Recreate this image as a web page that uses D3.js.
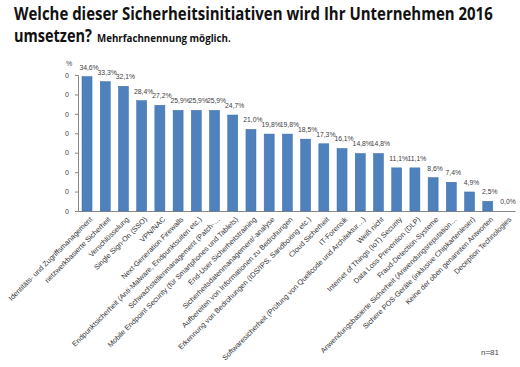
<!DOCTYPE html>
<html>
<head>
<meta charset="utf-8">
<script src="https://cdn.jsdelivr.net/npm/d3@7"></script>
<style>
  body { margin: 0; background: #fff; }
  svg { display: block; }
</style>
</head>
<body>
<div id="chart"></div>
<script>
'use strict';

const categories = [
  'Identitäts- und Zugriffsmanagement',
  'netzwerkbasierte Sicherheit',
  'Verschlüsselung',
  'Single Sign-On (SSO)',
  'VPN/NAC',
  'Next-Generation Firewalls',
  'Endpunktsicherheit (Anti-Malware, Endpunktsuiten etc.)',
  'Schwachstellenmanagement (Patch-…',
  'Mobile Endpoint Security (für Smartphones und Tablets)',
  'End-User Sicherheitstraining',
  'Sicherheitsdatenmanagement/-analyse',
  'Aufbereiten von Informationen zu Bedrohungen',
  'Erkennung von Bedrohungen (IDS/IPS, Sandboxing etc.)',
  'Cloud Sicherheit',
  'IT-Forensik',
  'Softwaresicherheit (Prüfung von Quellcode und Architektur…)',
  'Weiß nicht',
  'Internet of Things (IoT) Security',
  'Data Loss Prevention (DLP)',
  'Fraud-Detection-Systeme',
  'Anwendungsbasierte Sicherheit (Anwendungsreputation…',
  'Sichere POS-Geräte (inklusive Chipkartenleser)',
  'Keine der oben genannten Antworten',
  'Deception Technologies'
];

const values = [
  34.6, 33.3, 32.1, 28.4, 27.2, 25.9, 25.9, 25.9, 24.7, 21.0, 19.8, 19.8,
  18.5, 17.3, 16.1, 14.8, 14.8, 11.1, 11.1, 8.6, 7.4, 4.9, 2.5, 0.0
];

const yTicks = [0, 5, 10, 15, 20, 25, 30, 35];
// the tick labels are cut off in the original, only the last digit shows
const yTickLabels = ['0', '0', '0', '0', '0', '0', '0', '0'];

const title1 = 'Welche dieser Sicherheitsinitiativen wird Ihr Unternehmen 2016';
const title2 = 'umsetzen?';
const subtitle = 'Mehrfachnennung möglich.';
const note = 'n=81';

const W = 520, H = 367;
const plot = { left: 78, right: 515, top: 75, bottom: 211 };

const svg = d3.select('#chart').append('svg')
  .attr('width', W)
  .attr('height', H);

const font = 'Liberation Sans, Arial, sans-serif';
const titleFont = 'Open Sans, sans-serif';

// narrow Calibri look: squeeze a text horizontally to a given width
function squeezed(str, tx, ty, size, width) {
  const t = svg.append('text')
    .attr('font-family', titleFont)
    .attr('font-weight', 'bold')
    .attr('font-size', size)
    .attr('fill', '#111')
    .text(str);
  const sx = width / t.node().getComputedTextLength();
  t.attr('transform', `translate(${tx}, ${ty}) scale(${sx}, 1)`);
  return t;
}

squeezed(title1, 14, 20, 18, 479);
squeezed(title2, 14, 42, 18, 78);
squeezed(subtitle, 97, 42, 10, 134);

const x = d3.scaleBand()
  .domain(categories)
  .range([plot.left, plot.right])
  .paddingInner(0.45)
  .paddingOuter(0.22);

const y = d3.scaleLinear()
  .domain([0, 35])
  .range([plot.bottom, plot.top]);

// y axis
const yAxis = d3.axisLeft(y)
  .tickValues(yTicks)
  .tickSize(3)
  .tickPadding(6)
  .tickFormat((d, i) => yTickLabels[i]);

const gy = svg.append('g')
  .attr('transform', `translate(${plot.left}, 0)`)
  .call(yAxis);
gy.select('.domain').attr('stroke', '#888');
gy.selectAll('.tick line').attr('stroke', '#888');
gy.selectAll('.tick text')
  .attr('font-family', font)
  .attr('font-size', 7)
  .attr('fill', '#444');

svg.append('text')
  .attr('x', plot.left - 9).attr('y', 66)
  .attr('text-anchor', 'middle')
  .attr('font-family', font)
  .attr('font-size', 7)
  .attr('fill', '#444')
  .text('%');

// x axis
const xAxis = d3.axisBottom(x).tickSize(0).tickPadding(4);
const gx = svg.append('g')
  .attr('transform', `translate(0, ${plot.bottom})`)
  .call(xAxis);
gx.select('.domain').attr('stroke', '#888');
gx.selectAll('.tick text')
  .attr('font-family', font)
  .attr('font-size', 7.3)
  .attr('fill', '#333')
  .attr('text-anchor', 'end')
  .attr('dy', 0)
  .attr('transform', 'translate(3, 6) rotate(-45)');

// bars
svg.append('g').selectAll('rect')
  .data(values)
  .join('rect')
  .attr('x', (d, i) => x(categories[i]))
  .attr('y', d => y(d))
  .attr('width', x.bandwidth())
  .attr('height', d => y(0) - y(d))
  .attr('fill', '#4F81BD')
  .attr('stroke', '#3d6ea8')
  .attr('stroke-width', 0.5);

// value labels
svg.append('g').selectAll('text')
  .data(values)
  .join('text')
  .attr('x', (d, i) => x(categories[i]) + x.bandwidth() / 2 + 2)
  .attr('y', d => y(d) - 7)
  .attr('text-anchor', 'middle')
  .attr('font-family', font)
  .attr('font-size', 6.8)
  .attr('fill', '#404040')
  .text(d => d.toFixed(1).replace('.', ',') + '%');

svg.append('text')
  .attr('x', 481).attr('y', 355)
  .attr('font-family', font)
  .attr('font-size', 8)
  .attr('fill', '#444')
  .text(note);
</script>
</body>
</html>
